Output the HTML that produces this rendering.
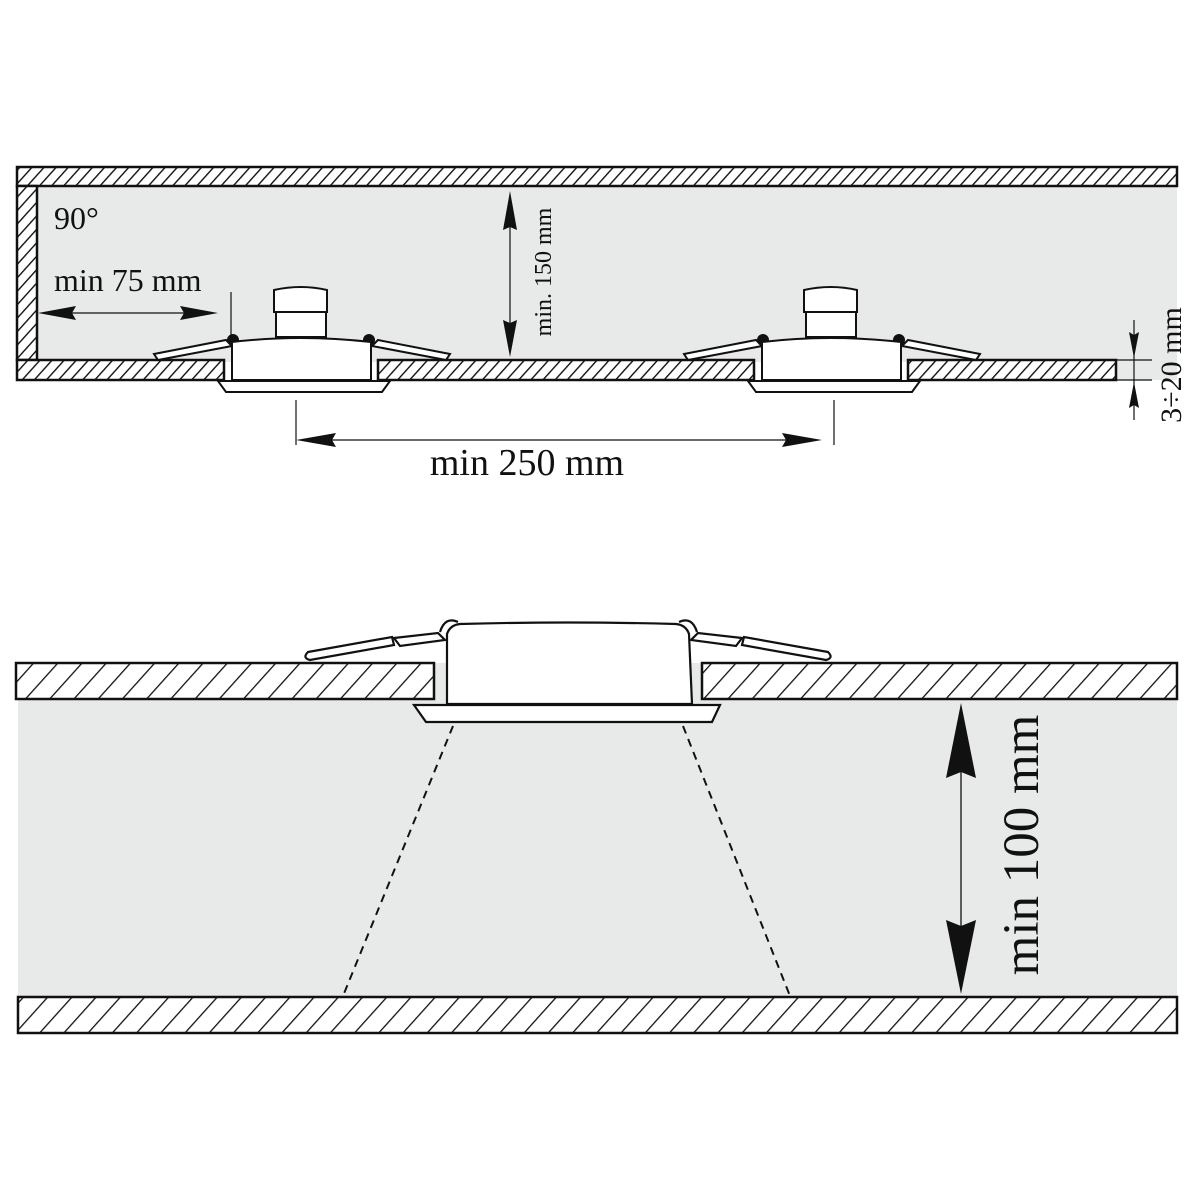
<!DOCTYPE html>
<html><head><meta charset="utf-8"><style>html,body{margin:0;padding:0;background:#fff}svg{display:block}</style></head>
<body>
<svg width="1200" height="1200" viewBox="0 0 1200 1200" xmlns="http://www.w3.org/2000/svg" font-family="Liberation Serif, serif">
<defs>
<pattern id="h1" width="9" height="9" patternUnits="userSpaceOnUse" patternTransform="rotate(42)">
<rect width="9" height="9" fill="#fff"/><line x1="0" y1="0" x2="0" y2="9" stroke="#111" stroke-width="2.8"/></pattern>
<pattern id="h2" width="18" height="18" patternUnits="userSpaceOnUse" patternTransform="rotate(42)">
<rect width="18" height="18" fill="#fff"/><line x1="0" y1="0" x2="0" y2="18" stroke="#111" stroke-width="2.6"/></pattern>
</defs>
<!-- TOP -->
<rect x="37" y="186" width="1140" height="176" fill="#e8e9e9"/>
<rect x="1116" y="360" width="61" height="20" fill="#e8e9e9"/>
<rect x="17" y="167" width="1160" height="19" fill="url(#h1)" stroke="#111" stroke-width="2.5"/>
<rect x="17" y="186" width="20" height="174" fill="url(#h1)" stroke="#111" stroke-width="2.5"/>
<rect x="17" y="360" width="207" height="20" fill="url(#h1)" stroke="#111" stroke-width="2.5"/>
<rect x="378" y="360" width="376" height="20" fill="url(#h1)" stroke="#111" stroke-width="2.5"/>
<rect x="908" y="360" width="208" height="20" fill="url(#h1)" stroke="#111" stroke-width="2.5"/>

<g id="lum" stroke="#111" stroke-width="2" fill="#fff">
<path d="M154 354 L226 340 L232 346 L158 360 Z"/>
<path d="M450 354 L378 340 L372 346 L446 360 Z"/>
<circle cx="233" cy="340" r="5" fill="#111"/>
<circle cx="369" cy="340" r="5" fill="#111"/>
<path d="M232 342 Q300 334 371 342 L371 380 L232 380 Z"/>
<path d="M218 381 L390 381 L382 392 L226 392 Z"/>
<rect x="276" y="311" width="50" height="26"/>
<path d="M274 290 Q301 284 327 290 L327 312 L274 312 Z"/>
</g>
<use href="#lum" x="530"/>

<!-- dims top -->
<g stroke="#111" stroke-width="1.2">
<line x1="231" y1="292" x2="231" y2="338"/>
<line x1="60" y1="313" x2="200" y2="313"/>
<line x1="510" y1="205" x2="510" y2="342"/>
<line x1="296" y1="400" x2="296" y2="445"/>
<line x1="834" y1="400" x2="834" y2="445"/>
<line x1="330" y1="440" x2="790" y2="440"/>
<line x1="1134" y1="320" x2="1134" y2="420"/>
<line x1="1116" y1="360" x2="1152" y2="360"/>
<line x1="1116" y1="380" x2="1152" y2="380"/>
</g>
<g fill="#111">
<path d="M38 313 L76 306 L72 313 L76 320 Z"/>
<path d="M218 313 L180 306 L184 313 L180 320 Z"/>
<path d="M510 191 L503 230 L510 227 L517 230 Z"/>
<path d="M510 357 L503 320 L510 323 L517 320 Z"/>
<path d="M296 440 L336 433 L332 440 L336 447 Z"/>
<path d="M822 440 L782 433 L786 440 L782 447 Z"/>
<path d="M1134 358 L1129 332 L1134 335 L1139 332 Z"/>
<path d="M1134 382 L1129 408 L1134 405 L1139 408 Z"/>
</g>
<g fill="#111">
<text x="54" y="229" font-size="32">90°</text>
<text x="54" y="291" font-size="32">min 75 mm</text>
<text x="527" y="475" font-size="38" text-anchor="middle">min 250 mm</text>
<text transform="translate(551,272) rotate(-90)" font-size="24" text-anchor="middle">min. 150 mm</text>
<text transform="translate(1181,365) rotate(-90)" font-size="30" text-anchor="middle">3÷20 mm</text>
</g>

<!-- BOTTOM -->
<rect x="18" y="699" width="1159" height="299" fill="#e8e9e9"/>
<rect x="433" y="663" width="270" height="36" fill="#e8e9e9"/>
<rect x="16" y="663" width="418" height="36" fill="url(#h2)" stroke="#111" stroke-width="2.5"/>
<rect x="702" y="663" width="475" height="36" fill="url(#h2)" stroke="#111" stroke-width="2.5"/>
<rect x="18" y="997" width="1159" height="36" fill="url(#h2)" stroke="#111" stroke-width="2.5"/>

<g stroke="#111" stroke-width="2.2" fill="#fff">
<path d="M308 652 L392 637 L394 645 L310 660 Q302 658 308 652 Z"/>
<path d="M394 638 L438 633 L445 640 L400 646 Z"/>
<path d="M828 652 L744 637 L742 645 L826 660 Q834 658 828 652 Z"/>
<path d="M742 638 L698 633 L691 640 L736 646 Z"/>
<path d="M440 632 Q445 616 458 622" fill="none"/>
<path d="M697 632 Q692 616 679 622" fill="none"/>
<path d="M447 634 Q450 625 460 624 Q568 621 676 624 Q686 625 689 634 L692 704 L447 704 Z"/>
<path d="M414 705 L720 705 L712 722 L426 722 Z"/>
</g>
<g stroke="#111" stroke-width="2" stroke-dasharray="8,6">
<line x1="453" y1="726" x2="343" y2="996"/>
<line x1="683" y1="726" x2="790" y2="996"/>
</g>
<line x1="961" y1="770" x2="961" y2="930" stroke="#111" stroke-width="1.3"/>
<g fill="#111">
<path d="M961 703 L946 778 L961 772 L976 778 Z"/>
<path d="M961 994 L946 920 L961 926 L976 920 Z"/>
</g>
<text transform="translate(1038,845) rotate(-90)" font-size="51" text-anchor="middle" fill="#111">min 100 mm</text>
</svg>
</body></html>
